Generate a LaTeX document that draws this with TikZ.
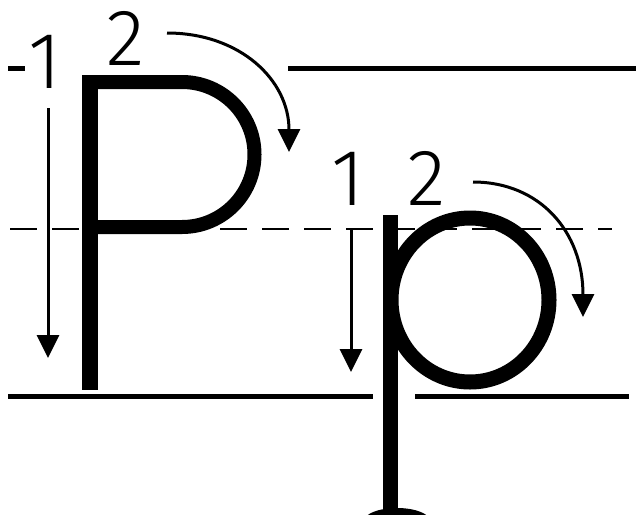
\documentclass[tikz,border=0pt]{standalone}
\usepackage{fontspec}
\newfontfamily\digfont{Fira Sans}[UprightFont={* Light}]
\usetikzlibrary{arrows.meta}
\begin{document}
\begin{tikzpicture}[x=1pt,y=-1pt,
  guide/.style={line width=5pt},
  midguide/.style={line width=2.5pt, dash pattern=on 27pt off 15pt},
  stroketip/.style={line width=3pt, -{Triangle[length=23pt,width=22pt]}},
  digit/.style={inner sep=0pt, anchor=base, font=\digfont\fontsize{80}{80}\selectfont}]
\useasboundingbox (0,0) rectangle (636,514);
% guide lines
\draw[guide] (8,68) -- (25,68);
\draw[guide] (288,68) -- (636,68);
\draw[guide] (8,396) -- (373,396);
\draw[guide] (415,396) -- (629,396);
\draw[midguide] (10,229) -- (612,229);
% capital P
\fill (82,75) rectangle (98,390);
\draw[line width=14pt] (90,82) -- (182,82) arc[start angle=-90, end angle=90, radius=72.5] -- (90,227);
% small p
\fill (383,215) rectangle (398,514);
\fill (397,521) ellipse [x radius=33, y radius=13];
\draw[line width=15pt] (470,300) ellipse [x radius=79, y radius=82];
% stroke numbers
\node[digit] (bigone) at (45,88) {1};
\node[digit] (bigtwo) at (126,65) {2};
\node[digit] (smallone) at (348,205) {1};
\node[digit] (smalltwo) at (427,205) {2};
% stroke arrows
\coordinate (a1s) at (48,108);
\coordinate (a1e) at (48,358);
\coordinate (a2s) at (167,33);
\coordinate (a2e) at (289,152);
\coordinate (b1s) at (351,228);
\coordinate (b1e) at (351,372);
\coordinate (b2s) at (473,182);
\coordinate (b2e) at (583,317);
\draw[stroketip] (a1s) -- (a1e);
\draw[stroketip] (b1s) -- (b1e);
\draw[stroketip] (a2s) .. controls (240,33) and (289,80) .. (a2e);
\draw[stroketip] (b2s) .. controls (540,182) and (583,232) .. (b2e);
\end{tikzpicture}
\end{document}
